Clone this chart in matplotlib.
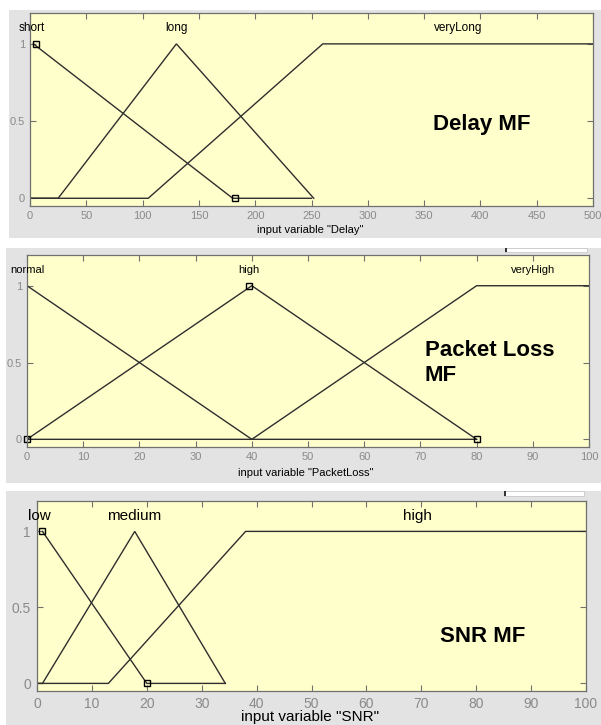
import numpy as np
import matplotlib
matplotlib.use("Agg")
import matplotlib.pyplot as plt
from matplotlib.patches import Rectangle

plt.rcParams["font.family"] = ["Liberation Sans", "DejaVu Sans"]

W, H = 601, 725

# Delay membership functions
delay_short_x = [3, 180, 250]
delay_short_y = [1, 0, 0]
delay_long_x = [0, 25, 130, 252]
delay_long_y = [0, 0, 1, 0]
delay_vlong_x = [0, 105, 260, 500]
delay_vlong_y = [0, 0, 1, 1]
delay_names = ["short", "long", "veryLong"]
delay_name_x = [1.5, 130, 380]
delay_marks_x = [5, 182]
delay_marks_y = [1, 0]

# Packet loss membership functions
loss_normal_x = [0, 40, 80]
loss_normal_y = [1, 0, 0]
loss_high_x = [0, 40, 80]
loss_high_y = [0, 1, 0]
loss_vhigh_x = [0, 40, 80, 100]
loss_vhigh_y = [0, 0, 1, 1]
loss_names = ["normal", "high", "veryHigh"]
loss_name_x = [0, 39.5, 90]
loss_marks_x = [0, 39.5, 80]
loss_marks_y = [0, 1, 0]

# SNR membership functions
snr_low_x = [1, 20, 34.3]
snr_low_y = [1, 0, 0]
snr_med_x = [0, 1, 17.8, 34.3]
snr_med_y = [0, 0, 1, 0]
snr_high_x = [0, 13, 38, 100]
snr_high_y = [0, 0, 1, 1]
snr_names = ["low", "medium", "high"]
snr_name_x = [0.5, 17.7, 69.3]
snr_marks_x = [1, 20]
snr_marks_y = [1, 0]

FACE = "#ffffcc"
GREY = "#e3e3e3"
LINE = "#2e2e2e"
TICK = "#8a8a8a"
EDGE = "#707070"


def frac(x0, y0, x1, y1):
    return [x0 / W, 1 - y1 / H, (x1 - x0) / W, (y1 - y0) / H]


fig = plt.figure(figsize=(W / 100, H / 100), dpi=100, facecolor="white")

# grey window backgrounds, kept behind the axes
for box in [(9, 10, 601, 238), (6, 248, 601, 483), (6, 491, 601, 725)]:
    l, b, w, h = frac(*box)
    fig.patches.append(Rectangle((l, b), w, h, transform=fig.transFigure,
                                 facecolor=GREY, edgecolor="none", zorder=-3))
# small white boxes at the top right of the lower windows
for box in [(505, 248, 587, 252), (504, 491, 584, 496)]:
    l, b, w, h = frac(*box)
    fig.patches.append(Rectangle((l, b), w, h, transform=fig.transFigure,
                                 facecolor="white", edgecolor="#c8c8c8", lw=0.6, zorder=-2))
    fig.patches.append(Rectangle((l, b), 1.5 / W, h, transform=fig.transFigure,
                                 facecolor="#333333", edgecolor="none", zorder=-1))


def draw_panel(rect, xmax, step, curves, names, name_x, marks_x, marks_y,
               tick_fs, name_fs, pad):
    ax = fig.add_axes(frac(*rect))
    ax.set_facecolor(FACE)
    for cx, cy in curves:
        ax.plot(cx, cy, color=LINE, lw=1.0, solid_joinstyle="miter")
    ax.plot(marks_x, marks_y, ls="none", marker="s", ms=4.5, mfc="none",
            mec="black", mew=1.0, clip_on=False)
    for n, x in zip(names, name_x):
        ax.text(x, 1.1, n, ha="center", va="center", fontsize=name_fs, color="black")
    ax.set_xlim(0, xmax)
    ax.set_ylim(-0.05, 1.2)
    ax.set_xticks(np.arange(0, xmax + step, step))
    ax.set_yticks([0, 0.5, 1])
    ax.set_yticklabels(["0", "0.5", "1"])
    ax.tick_params(direction="in", length=4, width=0.8, color=EDGE,
                   labelcolor=TICK, labelsize=tick_fs, pad=pad,
                   top=True, right=True)
    for s in ax.spines.values():
        s.set_color(EDGE)
        s.set_linewidth(0.9)
    return ax


ax1 = draw_panel((30, 13, 593, 206), 500, 50,
                 [(delay_short_x, delay_short_y), (delay_long_x, delay_long_y),
                  (delay_vlong_x, delay_vlong_y)],
                 delay_names, delay_name_x, delay_marks_x, delay_marks_y,
                 8, 8.5, 3.5)
ax1.text(401, 0.48, "Delay MF", ha="center", va="center",
         fontsize=16, fontweight="bold")
fig.text(310 / W, 1 - 230 / H, 'input variable "Delay"', ha="center",
         va="center", fontsize=8)

ax2 = draw_panel((27, 255, 589, 447), 100, 10,
                 [(loss_normal_x, loss_normal_y), (loss_high_x, loss_high_y),
                  (loss_vhigh_x, loss_vhigh_y)],
                 loss_names, loss_name_x, loss_marks_x, loss_marks_y,
                 8, 8, 3.5)
ax2.text(70.8, 0.5, "Packet Loss\nMF", ha="left", va="center",
         fontsize=16, fontweight="bold", linespacing=1.25)
fig.text(306 / W, 1 - 473 / H, 'input variable "PacketLoss"', ha="center",
         va="center", fontsize=8)

ax3 = draw_panel((37, 501, 586, 691), 100, 10,
                 [(snr_low_x, snr_low_y), (snr_med_x, snr_med_y),
                  (snr_high_x, snr_high_y)],
                 snr_names, snr_name_x, snr_marks_x, snr_marks_y,
                 10, 11, 4.5)
ax3.text(81.2, 0.31, "SNR MF", ha="center", va="center",
         fontsize=16, fontweight="bold")
fig.text(310 / W, 1 - 717 / H, 'input variable "SNR"', ha="center",
         va="center", fontsize=11)

fig.savefig("out.png", dpi=100, facecolor="white")
